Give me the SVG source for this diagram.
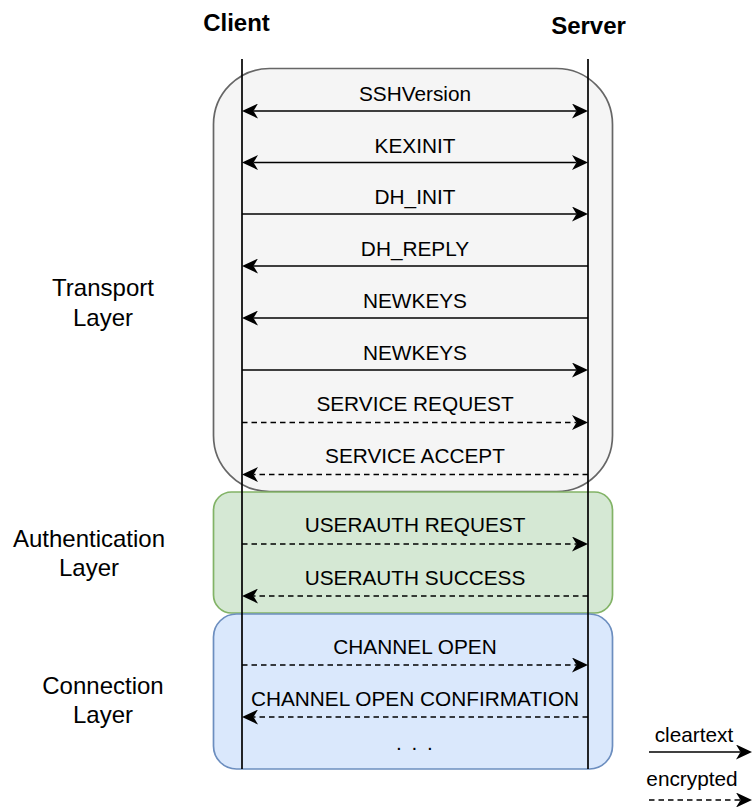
<svg xmlns="http://www.w3.org/2000/svg" width="752" height="807" viewBox="0 0 752 807">
<style>
text{font-family:"Liberation Sans",Arial,Helvetica,sans-serif;fill:#000}
.lbl{font-size:20.8px;text-anchor:middle}
.layer{font-size:24px;text-anchor:middle}
.hdr{font-size:24px;font-weight:bold;text-anchor:middle}
.msg{stroke:#000;stroke-width:1.7;fill:none}
.dash{stroke-dasharray:5.5 4}
.life{stroke:#000;stroke-width:1.7}
</style>
<defs>
<marker id="ah" markerUnits="userSpaceOnUse" markerWidth="16" markerHeight="15" refX="4.5" refY="7.5" orient="auto-start-reverse">
<path d="M0,0 L16,7.5 L0,15 L4.5,7.5 Z" fill="#000"/>
</marker>
</defs>
<g id="transport-layer">
<rect x="213.5" y="68.5" width="399" height="423" rx="56" fill="#f5f5f5" stroke="#666666" stroke-width="1.7"/>
<text class="layer" x="103" y="296">Transport</text>
<text class="layer" x="103" y="325.5">Layer</text>
</g>
<g id="authentication-layer">
<rect x="213.5" y="492" width="399" height="121" rx="18" fill="#d5e8d4" stroke="#82b366" stroke-width="1.7"/>
<text class="layer" x="89" y="547">Authentication</text>
<text class="layer" x="89" y="576">Layer</text>
</g>
<g id="connection-layer">
<rect x="213.5" y="614" width="399" height="155" rx="23" fill="#dae8fc" stroke="#6c8ebf" stroke-width="1.7"/>
<text class="layer" x="103" y="694">Connection</text>
<text class="layer" x="103" y="723">Layer</text>
</g>
<g id="client">
<text class="hdr" x="236.5" y="30.5">Client</text>
<line class="life" x1="242" y1="59" x2="242" y2="769"/>
</g>
<g id="server">
<text class="hdr" x="588.5" y="34">Server</text>
<line class="life" x1="588" y1="59" x2="588" y2="769"/>
</g>
<g id="connectors">
<line class="msg" x1="253.5" y1="111" x2="576.5" y2="111" marker-start="url(#ah)" marker-end="url(#ah)"/>
<line class="msg" x1="253.5" y1="162.5" x2="576.5" y2="162.5" marker-start="url(#ah)" marker-end="url(#ah)"/>
<line class="msg" x1="242" y1="214" x2="576.5" y2="214" marker-end="url(#ah)"/>
<line class="msg" x1="588" y1="266" x2="253.5" y2="266" marker-end="url(#ah)"/>
<line class="msg" x1="588" y1="318" x2="253.5" y2="318" marker-end="url(#ah)"/>
<line class="msg" x1="242" y1="370" x2="576.5" y2="370" marker-end="url(#ah)"/>
<line class="msg dash" x1="242" y1="422.5" x2="576.5" y2="422.5" marker-end="url(#ah)"/>
<line class="msg dash" x1="588" y1="474.5" x2="253.5" y2="474.5" marker-end="url(#ah)"/>
<line class="msg dash" x1="242" y1="544" x2="576.5" y2="544" marker-end="url(#ah)"/>
<line class="msg dash" x1="588" y1="596" x2="253.5" y2="596" marker-end="url(#ah)"/>
<line class="msg dash" x1="242" y1="665" x2="576.5" y2="665" marker-end="url(#ah)"/>
<line class="msg dash" x1="588" y1="717" x2="253.5" y2="717" marker-end="url(#ah)"/>
<line class="msg" x1="649" y1="752" x2="740.5" y2="752" marker-end="url(#ah)"/>
<line class="msg dash" x1="649" y1="800" x2="740.5" y2="800" marker-end="url(#ah)"/>
</g>
<g id="labels">
<text class="lbl" x="415" y="100.5">SSHVersion</text>
<text class="lbl" x="415" y="152.5">KEXINIT</text>
<text class="lbl" x="415" y="204">DH_INIT</text>
<text class="lbl" x="415" y="256">DH_REPLY</text>
<text class="lbl" x="415" y="308">NEWKEYS</text>
<text class="lbl" x="415" y="360">NEWKEYS</text>
<text class="lbl" x="415" y="411">SERVICE REQUEST</text>
<text class="lbl" x="415" y="462.5">SERVICE ACCEPT</text>
<text class="lbl" x="415" y="531.5">USERAUTH REQUEST</text>
<text class="lbl" x="415" y="585">USERAUTH SUCCESS</text>
<text class="lbl" x="415" y="654">CHANNEL OPEN</text>
<text class="lbl" x="415" y="706">CHANNEL OPEN CONFIRMATION</text>
<text style="font-size:20.8px" x="396" y="750" letter-spacing="2">. . .</text>
</g>
<g id="legend">
<text class="lbl" x="694" y="742">cleartext</text>
<text class="lbl" x="692" y="786">encrypted</text>
</g>
</svg>
